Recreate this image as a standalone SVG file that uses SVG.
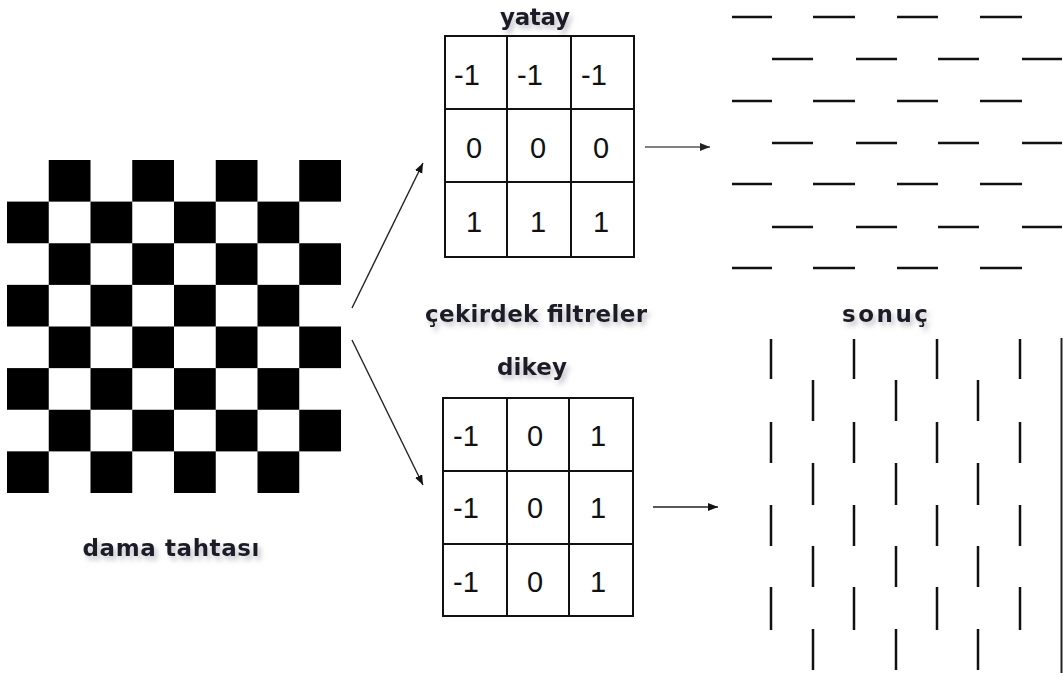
<svg xmlns="http://www.w3.org/2000/svg" xmlns:xlink="http://www.w3.org/1999/xlink" width="1063" height="681" viewBox="0 0 1063 681">
<style>
.grid{fill:none;stroke:#111;stroke-width:2}
.num{font-family:"Liberation Sans",Arial,sans-serif;font-size:29px;fill:#111;text-anchor:middle}
.lbl{font-family:"DejaVu Sans",Verdana,sans-serif;font-weight:bold;font-size:23px;fill:#1a1a26;text-anchor:middle;filter:url(#sh)}
.seg{fill:none;stroke:#111;stroke-width:2.5}
.arr{fill:none;stroke:#222;stroke-width:1.4}
</style>
<defs>
<filter id="sh" x="-20%" y="-40%" width="140%" height="200%">
<feDropShadow dx="3" dy="4" stdDeviation="2.5" flood-color="#8a8a9a" flood-opacity="0.5"/>
</filter>
<marker id="ah" markerUnits="userSpaceOnUse" markerWidth="11" markerHeight="9" refX="10" refY="4" orient="auto">
<path d="M0,0 L10,4 L0,8 z" fill="#111"/>
</marker>
<marker id="ahg" markerUnits="userSpaceOnUse" markerWidth="11" markerHeight="9" refX="10" refY="4" orient="auto">
<path d="M0,0 L10,4 L0,8 z" fill="#222"/>
</marker>
<g id="pair" fill="#000">
<rect x="48.75" y="160" width="41.75" height="41.65"/>
<rect x="132.25" y="160" width="41.75" height="41.65"/>
<rect x="215.75" y="160" width="41.75" height="41.65"/>
<rect x="299.25" y="160" width="41.75" height="41.65"/>
<rect x="7" y="201.6" width="41.75" height="41.65"/>
<rect x="90.5" y="201.6" width="41.75" height="41.65"/>
<rect x="174" y="201.6" width="41.75" height="41.65"/>
<rect x="257.5" y="201.6" width="41.75" height="41.65"/>
</g>
</defs>
<rect width="1063" height="681" fill="#fff"/>

<g id="checkerboard">
<use xlink:href="#pair" href="#pair"/>
<use xlink:href="#pair" href="#pair" y="83.25"/>
<use xlink:href="#pair" href="#pair" y="166.5"/>
<use xlink:href="#pair" href="#pair" y="249.75"/>
</g>

<g id="label-dama">
<text class="lbl" x="171" y="556" textLength="177" lengthAdjust="spacing">dama tahtası</text>
</g>

<g id="kernel-yatay">
<text class="lbl" x="535" y="25" textLength="70" lengthAdjust="spacing">yatay</text>
<rect class="grid" x="445" y="36" width="189" height="221"/>
<path class="grid" d="M507,36 V257 M571,36 V257 M445,109 H634 M445,182 H634"/>
<text class="num" x="467" y="85">-1</text>
<text class="num" x="530" y="85">-1</text>
<text class="num" x="594" y="85">-1</text>
<text class="num" x="474" y="158">0</text>
<text class="num" x="538" y="158">0</text>
<text class="num" x="601" y="158">0</text>
<text class="num" x="474" y="232">1</text>
<text class="num" x="538" y="232">1</text>
<text class="num" x="601" y="232">1</text>
</g>

<g id="label-cekirdek">
<text class="lbl" x="536" y="322" textLength="222" lengthAdjust="spacing">çekirdek filtreler</text>
</g>

<g id="kernel-dikey">
<text class="lbl" x="532" y="375" textLength="70" lengthAdjust="spacing">dikey</text>
<rect class="grid" x="443" y="398" width="190" height="218"/>
<path class="grid" d="M507,398 V616 M569,398 V616 M443,471 H633 M443,544 H633"/>
<text class="num" x="466" y="446">-1</text>
<text class="num" x="535" y="446">0</text>
<text class="num" x="598" y="446">1</text>
<text class="num" x="466" y="518">-1</text>
<text class="num" x="535" y="518">0</text>
<text class="num" x="598" y="518">1</text>
<text class="num" x="466" y="592">-1</text>
<text class="num" x="535" y="592">0</text>
<text class="num" x="598" y="592">1</text>
</g>

<g id="result-horizontal">
<path class="seg" d="M732,17H772M813,17H855M897,17H938M980,17H1022
M772,59H813M856,59H897M938,59H979M1022,59H1062
M732,101H772M813,101H855M897,101H938M980,101H1022
M772,143H813M856,143H897M938,143H979M1022,143H1062
M732,184H772M813,184H855M897,184H938M980,184H1022
M772,227H813M856,227H897M938,227H979M1022,227H1062
M732,268H772M813,268H855M897,268H938M980,268H1022"/>
</g>

<g id="label-sonuc">
<text class="lbl" x="885" y="322" textLength="86" lengthAdjust="spacing">sonuç</text>
</g>

<g id="result-vertical">
<path class="seg" d="M771,339V379M771,422V463M771,505V546M771,587V630
M854,339V379M854,422V463M854,505V546M854,587V630
M937,339V379M937,422V463M937,505V546M937,587V630
M1020,339V379M1020,422V463M1020,505V546M1020,587V630
M813,380V421M813,463V505M813,546V587M813,629V670
M896,380V421M896,463V505M896,546V587M896,629V670
M978,380V421M978,463V505M978,546V587M978,629V670"/>
<path d="M1061.5,338V673" fill="none" stroke="#222" stroke-width="2"/>
</g>

<g id="connectors">
<line class="arr" x1="352" y1="308" x2="423" y2="163" marker-end="url(#ah)"/>
<line class="arr" x1="352" y1="340" x2="423" y2="485" marker-end="url(#ah)"/>
<line x1="645" y1="147" x2="710" y2="147" fill="none" stroke="#808080" stroke-width="2" marker-end="url(#ahg)"/>
<line class="arr" x1="653" y1="507" x2="718" y2="507" marker-end="url(#ah)"/>
</g>
</svg>
